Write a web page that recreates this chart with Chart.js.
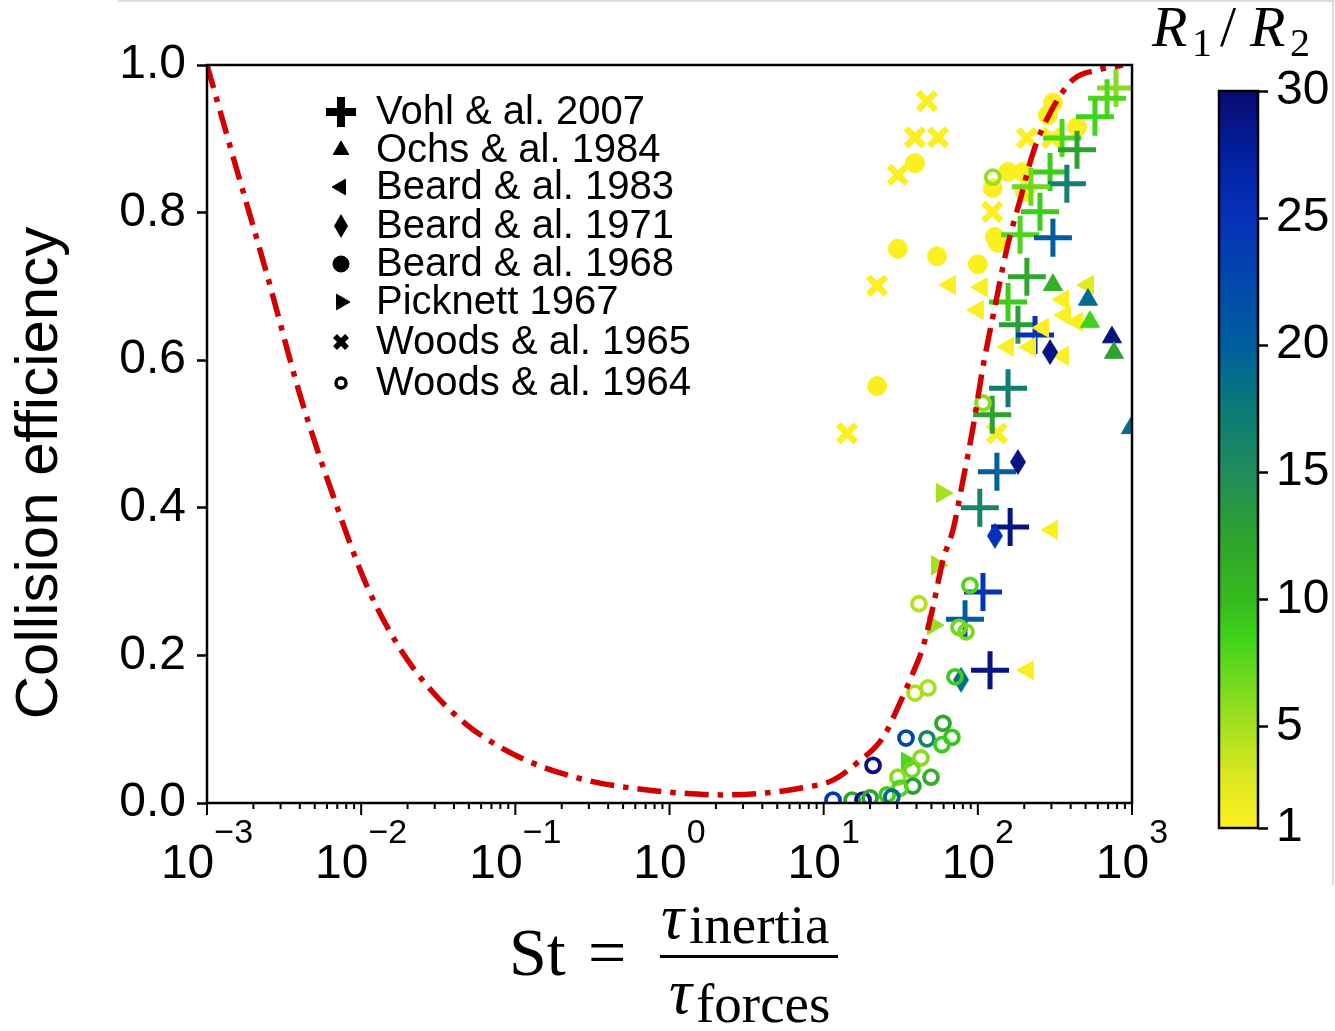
<!DOCTYPE html>
<html lang="en">
<head>
    <meta charset="UTF-8">
    <title>Collision efficiency vs Stokes number</title>
    <script src="https://cdn.jsdelivr.net/npm/chart.js@4.4.1/dist/chart.umd.min.js"></script>
    <style>
        body { margin: 0; background: #fff; }
        #wrap { position: relative; width: 1335px; height: 1031px; overflow: hidden; }
        #wrap canvas { position: absolute; top: 0; }
        #main { left: 0; }
        #cbar { left: 1200px; }
        .edge { position: absolute; background: #dedede; }
    </style>
</head>
<body>
<div id="wrap">
    <canvas id="main" width="1335" height="1031"></canvas>
    <canvas id="cbar" width="135" height="1031"></canvas>
    <div class="edge" style="left:118px;top:0;width:1217px;height:2px"></div>
    <div class="edge" style="left:1332px;top:0;width:2px;height:885px"></div>
</div>
<script>
    // Model curve
    const curveSt  = [0.001, 0.00147, 0.00245, 0.00401, 0.00656, 0.0109, 0.0179, 0.0292, 0.0485, 0.0794, 0.130, 0.216, 0.354, 0.579, 0.964, 2.12, 3.9, 7.02, 11.5, 16.4, 24.3, 31.3, 37.9, 44.0, 51.2, 59.4, 69.0, 80.2, 93.1, 108, 129, 155, 188, 228, 294, 414, 593, 873];
    const curveEff = [1.0, 0.877, 0.716, 0.553, 0.417, 0.294, 0.209, 0.150, 0.106, 0.076, 0.054, 0.038, 0.027, 0.020, 0.015, 0.011, 0.013, 0.020, 0.031, 0.054, 0.089, 0.136, 0.176, 0.211, 0.266, 0.329, 0.370, 0.438, 0.509, 0.591, 0.672, 0.753, 0.817, 0.881, 0.935, 0.980, 0.993, 1.0];

    // Vohl & al. 2007
    const vohlSt    = [787, 689, 575, 352, 440, 294, 378, 221, 253, 188, 307, 208, 157, 182, 235, 157, 124, 133, 103, 162, 108, 82.6, 120];
    const vohlEff   = [0.969, 0.955, 0.930, 0.901, 0.885, 0.855, 0.839, 0.835, 0.801, 0.770, 0.766, 0.713, 0.679, 0.648, 0.634, 0.562, 0.526, 0.449, 0.400, 0.374, 0.286, 0.249, 0.180];
    const vohlRatio = [6, 8, 8.5, 8, 12.5, 9, 16.5, 7, 9, 8, 20, 12, 9, 13, 25, 17, 12.5, 20, 16, 29, 25, 20, 29];

    // Ochs & al. 1984
    const ochsSt    = [307, 518, 534, 741, 764, 985];
    const ochsEff   = [0.702, 0.682, 0.652, 0.631, 0.610, 0.508];
    const ochsRatio = [11, 19, 8.5, 29, 12.5, 19];

    // Beard & al. 1983
    const beard83St    = [65.9, 106, 100, 357, 518, 367, 440, 265, 157, 218, 357, 303, 211];
    const beard83Eff   = [0.702, 0.699, 0.668, 0.682, 0.702, 0.661, 0.652, 0.644, 0.618, 0.618, 0.606, 0.370, 0.180];
    const beard83Ratio = [1.3, 1.3, 1.3, 1.3, 2.5, 1.3, 1.3, 1.3, 1.3, 1.3, 1.3, 1.3, 1.3];

    // Beard & al. 1971
    const beard71St    = [182, 129, 294, 77.8];
    const beard71Eff   = [0.462, 0.362, 0.611, 0.167];
    const beard71Ratio = [29, 25, 29, 19];

    // Beard & al. 1968
    const beard68St    = [39.1, 30.3, 54.3, 100, 125, 157, 196, 202, 129, 135, 307, 285, 440, 22.2];
    const beard68Eff   = [0.867, 0.751, 0.741, 0.730, 0.833, 0.855, 0.855, 0.828, 0.767, 0.759, 0.949, 0.932, 0.916, 0.565];
    const beard68Ratio = [1.2, 1.2, 1.2, 1.2, 1.2, 1.2, 1.2, 1.2, 1.2, 1.2, 1.2, 1.2, 1.2, 1.2];

    // Picknett 1967
    const picknettSt    = [58.5, 54.3, 51.2, 34.7];
    const picknettEff   = [0.420, 0.322, 0.241, 0.056];
    const picknettRatio = [5, 5, 5.5, 8];

    // Woods & al. 1965
    const woods65St    = [46.8, 39.1, 55.2, 30.3, 22.2, 14.2, 124, 208, 303, 133];
    const woods65Eff   = [0.951, 0.902, 0.902, 0.851, 0.701, 0.501, 0.801, 0.901, 0.901, 0.501];
    const woods65Ratio = [1.2, 1.2, 1.2, 1.2, 1.2, 1.2, 1.2, 1.2, 1.2, 1.2];

    // Woods & al. 1964
    const woods64St    = [125, 108, 88.9, 41.5, 75.5, 83.8, 71.1, 47.5, 39.1, 59.4, 34.2, 46.8, 67.9, 58.5, 20.9, 42.8, 37.4, 30.3, 49.7, 37.9, 31.3, 25.8, 11.5, 15.3, 18.0, 20.0, 27.7];
    const woods64Eff   = [0.848, 0.542, 0.295, 0.270, 0.238, 0.232, 0.171, 0.156, 0.149, 0.108, 0.088, 0.087, 0.089, 0.079, 0.051, 0.061, 0.045, 0.035, 0.035, 0.023, 0.020, 0.011, 0.004, 0.004, 0.004, 0.007, 0.008];
    const woods64Ratio = [5.5, 6, 8, 4.5, 7, 6.5, 9, 5, 5, 12, 23, 16, 9.5, 9, 29, 6, 7, 6, 11, 13, 8, 9, 24, 12, 29, 12, 19];

    // Axes / colour bar
    const xTickExps = [-3, -2, -1, 0, 1, 2, 3];
    const xMinorMults = [2, 3, 4, 5, 6, 7, 8, 9];
    const cbTicks = [1, 5, 10, 15, 20, 25, 30];
    const cbStopValues = [1, 3, 5, 7, 8.5, 10, 12.5, 15, 17.5, 20, 25, 27.5, 30];
    const cbStopColors = ['#fff021', '#dbe81f', '#a6e01f', '#6cd81e', '#3fd41b', '#36bb1e', '#2ea22f', '#218c5c', '#0a7b78', '#005e9e', '#0532b8', '#0320a0', '#0a0a6e'];

    const legendLabels = ['Vohl & al. 2007', 'Ochs & al. 1984', 'Beard & al. 1983', 'Beard & al. 1971',
                          'Beard & al. 1968', 'Picknett 1967', 'Woods & al. 1965', 'Woods & al. 1964'];

    const SANS = "'Liberation Sans', Arial, sans-serif";
    const SERIF = "'Liberation Serif', 'DejaVu Serif', serif";
    Chart.defaults.font.family = SANS;
    Chart.defaults.color = '#000';

    function hexToRgb(h) {
        return [parseInt(h.slice(1, 3), 16), parseInt(h.slice(3, 5), 16), parseInt(h.slice(5, 7), 16)];
    }

    function colorFor(v) {
        const n = cbStopValues.length;
        for (let i = 0; i < n - 1; i++) {
            if (v <= cbStopValues[i + 1] || i === n - 2) {
                const a = cbStopValues[i], b = cbStopValues[i + 1];
                const t = Math.max(0, Math.min(1, (v - a) / (b - a)));
                const c1 = hexToRgb(cbStopColors[i]), c2 = hexToRgb(cbStopColors[i + 1]);
                return 'rgb(' + c1.map((c, k) => Math.round(c + (c2[k] - c) * t)).join(',') + ')';
            }
        }
    }

    // thin diamond marker (matplotlib 'd')
    const diamondCache = {};
    function diamond(color, w = 16, h = 26) {
        const key = color + w + h;
        if (!diamondCache[key]) {
            const c = document.createElement('canvas');
            c.width = w; c.height = h;
            const g = c.getContext('2d');
            g.fillStyle = color;
            g.beginPath();
            g.moveTo(w / 2, 0); g.lineTo(w, h / 2); g.lineTo(w / 2, h); g.lineTo(0, h / 2);
            g.closePath();
            g.fill();
            diamondCache[key] = c;
        }
        return diamondCache[key];
    }

    function series(label, st, eff, ratio, style) {
        const colors = ratio.map(colorFor);
        return Object.assign({
            label: label,
            data: st.map((s, i) => ({ x: s, y: eff[i] })),
            pointBackgroundColor: colors,
            pointBorderColor: colors,
            pointHoverRadius: style.pointRadius
        }, style);
    }

    const datasets = [
        {
            type: 'line',
            label: 'model',
            data: curveSt.map((s, i) => ({ x: s, y: curveEff[i] })),
            borderColor: '#d20000',
            borderWidth: 5.5,
            borderDash: [24, 9, 5.5, 9],
            pointRadius: 0,
            fill: false,
            cubicInterpolationMode: 'monotone',
            order: 0
        },
        series(legendLabels[7], woods64St, woods64Eff, woods64Ratio,
            { pointStyle: 'circle', pointRadius: 7, pointBorderWidth: 3.8, order: 1 }),
        series(legendLabels[5], picknettSt, picknettEff, picknettRatio,
            { pointStyle: 'triangle', pointRotation: 90, pointRadius: 11, pointBorderWidth: 1, order: 2 }),
        series(legendLabels[3], beard71St, beard71Eff, beard71Ratio,
            { pointStyle: beard71Ratio.map(v => diamond(colorFor(v))), pointRadius: 12, order: 3 }),
        series(legendLabels[1], ochsSt, ochsEff, ochsRatio,
            { pointStyle: 'triangle', pointRadius: 11, pointBorderWidth: 1, order: 4 }),
        series(legendLabels[2], beard83St, beard83Eff, beard83Ratio,
            { pointStyle: 'triangle', pointRotation: -90, pointRadius: 11, pointBorderWidth: 1, order: 5 }),
        series(legendLabels[0], vohlSt, vohlEff, vohlRatio,
            { pointStyle: 'cross', pointRadius: 19, pointBorderWidth: 5, order: 6 }),
        series(legendLabels[6], woods65St, woods65Eff, woods65Ratio,
            { pointStyle: 'crossRot', pointRadius: 12.5, pointBorderWidth: 6.5, order: 7 }),
        series(legendLabels[4], beard68St, beard68Eff, beard68Ratio,
            { pointStyle: 'circle', pointRadius: 9.5, pointBorderWidth: 1, order: 8 })
    ];
    // hollow rings
    datasets[1].pointBackgroundColor = 'rgba(0,0,0,0)';

    // legend markers, in legend order
    const legendMarkers = [
        { pointStyle: 'cross', radius: 15, borderWidth: 8, fill: '#000' },
        { pointStyle: 'triangle', radius: 9, borderWidth: 1, fill: '#000' },
        { pointStyle: 'triangle', radius: 9, rotation: -90, borderWidth: 1, fill: '#000' },
        { pointStyle: diamond('#000', 14, 24), radius: 12, borderWidth: 0, fill: '#000' },
        { pointStyle: 'circle', radius: 8, borderWidth: 1, fill: '#000' },
        { pointStyle: 'triangle', radius: 9, rotation: 90, borderWidth: 1, fill: '#000' },
        { pointStyle: 'crossRot', radius: 8.5, borderWidth: 5.5, fill: '#000' },
        { pointStyle: 'circle', radius: 5, borderWidth: 3.5, fill: 'rgba(0,0,0,0)' }
    ];
    const legendRows = [112, 150, 187, 226, 264, 302, 342, 383];

    const decorPlugin = {
        id: 'decor',
        afterDraw(chart) {
            const { ctx, chartArea: a } = chart;
            const xs = chart.scales.x;
            ctx.save();

            // frame
            ctx.strokeStyle = '#000';
            ctx.lineWidth = 2.5;
            ctx.strokeRect(a.left, a.top, a.right - a.left, a.bottom - a.top);

            // log ticks on x
            ctx.lineWidth = 2;
            ctx.beginPath();
            xTickExps.forEach(e => {
                const p = xs.getPixelForValue(Math.pow(10, e));
                ctx.moveTo(p, a.bottom); ctx.lineTo(p, a.bottom + 12);
            });
            xTickExps.slice(0, -1).forEach(e => xMinorMults.forEach(m => {
                const p = xs.getPixelForValue(m * Math.pow(10, e));
                ctx.moveTo(p, a.bottom); ctx.lineTo(p, a.bottom + 6);
            }));
            ctx.stroke();

            // x tick labels 10^n
            ctx.fillStyle = '#000';
            ctx.textBaseline = 'alphabetic';
            ctx.textAlign = 'left';
            xTickExps.forEach(e => {
                const p = xs.getPixelForValue(Math.pow(10, e));
                const sup = e < 0 ? '\u2212' + (-e) : String(e);
                ctx.font = '48px ' + SANS;
                const wb = ctx.measureText('10').width;
                ctx.font = '34px ' + SANS;
                const ws = ctx.measureText(sup).width;
                const start = p - (wb + ws) / 2;
                ctx.font = '48px ' + SANS;
                ctx.fillText('10', start, a.bottom + 75);
                ctx.font = '34px ' + SANS;
                ctx.fillText(sup, start + wb, a.bottom + 40);
            });

            // y title
            ctx.save();
            ctx.translate(40, 473);
            ctx.rotate(-Math.PI / 2);
            ctx.font = '60px ' + SANS;
            ctx.textAlign = 'center';
            ctx.textBaseline = 'middle';
            ctx.fillText('Collision efficiency', 0, 0);
            ctx.restore();

            // legend
            legendLabels.forEach((label, i) => {
                const y = legendRows[i];
                const m = legendMarkers[i];
                ctx.fillStyle = m.fill;
                ctx.strokeStyle = '#000';
                ctx.lineWidth = m.borderWidth;
                Chart.helpers.drawPoint(ctx, m, 341, y);
                ctx.fillStyle = '#000';
                ctx.font = '40px ' + SANS;
                ctx.textAlign = 'left';
                ctx.textBaseline = 'middle';
                ctx.fillText(label, 376, y + 1);
            });

            // x title: St = tau_inertia / tau_forces
            ctx.fillStyle = '#000';
            ctx.textBaseline = 'alphabetic';
            ctx.textAlign = 'left';
            ctx.font = '68px ' + SERIF;
            ctx.fillText('St', 509, 975);
            ctx.fillText('=', 588, 975);
            ctx.font = 'italic 64px ' + SERIF;
            ctx.fillText('\u03c4', 661, 938);
            ctx.fillText('\u03c4', 669, 1013);
            ctx.font = '55px ' + SERIF;
            ctx.fillText('inertia', 689, 943);
            ctx.fillText('forces', 696, 1022);
            ctx.fillRect(660, 955, 178, 3);

            // colour bar title R1/R2
            ctx.font = 'italic 58px ' + SERIF;
            ctx.fillText('R', 1152, 46);
            ctx.fillText('R', 1250, 46);
            ctx.font = '58px ' + SERIF;
            ctx.fillText('/', 1220, 46);
            ctx.font = '40px ' + SERIF;
            ctx.fillText('1', 1192, 56);
            ctx.fillText('2', 1290, 56);

            ctx.restore();
        }
    };

    new Chart(document.getElementById('main'), {
        type: 'scatter',
        data: { datasets: datasets },
        options: {
            responsive: false,
            animation: false,
            layout: { padding: { left: 0, top: 65, right: 203, bottom: 228 } },
            plugins: { legend: { display: false }, tooltip: { enabled: false } },
            scales: {
                x: {
                    type: 'logarithmic',
                    min: 0.001,
                    max: 1000,
                    ticks: { display: false },
                    grid: { display: false },
                    border: { display: false },
                    afterFit: scale => { scale.height = 0; }
                },
                y: {
                    min: 0,
                    max: 1,
                    ticks: {
                        stepSize: 0.2,
                        color: '#000',
                        padding: 11,
                        font: { size: 48 },
                        callback: v => v.toFixed(1)
                    },
                    grid: { drawOnChartArea: false, tickLength: 10, tickWidth: 2.5, tickColor: '#000' },
                    border: { display: false },
                    afterFit: scale => { scale.width = 207; }
                }
            }
        },
        plugins: [decorPlugin]
    });

    // colour bar
    function barGradient(chart) {
        const a = chart.chartArea;
        if (!a) return cbStopColors[0];
        const g = chart.ctx.createLinearGradient(0, a.bottom, 0, a.top);
        cbStopValues.forEach((v, i) => g.addColorStop((v - 1) / 29, cbStopColors[i]));
        return g;
    }

    const cbFramePlugin = {
        id: 'cbFrame',
        afterDraw(chart) {
            const { ctx, chartArea: a } = chart;
            ctx.save();
            ctx.strokeStyle = '#000';
            ctx.lineWidth = 2.5;
            ctx.strokeRect(a.left, a.top, a.right - a.left, a.bottom - a.top);
            ctx.restore();
        }
    };

    new Chart(document.getElementById('cbar'), {
        type: 'bar',
        data: {
            labels: [''],
            datasets: [{
                data: [[1, 30]],
                backgroundColor: ctx => barGradient(ctx.chart),
                borderWidth: 0,
                barPercentage: 1,
                categoryPercentage: 1
            }]
        },
        options: {
            responsive: false,
            animation: false,
            layout: { padding: { left: 19, top: 91, right: 0, bottom: 203 } },
            plugins: { legend: { display: false }, tooltip: { enabled: false } },
            scales: {
                x: { display: false },
                y: {
                    position: 'right',
                    min: 1,
                    max: 30,
                    afterBuildTicks: scale => { scale.ticks = cbTicks.map(v => ({ value: v })); },
                    ticks: { color: '#000', padding: 8, font: { size: 48 } },
                    grid: { drawOnChartArea: false, tickLength: 10, tickWidth: 2.5, tickColor: '#000' },
                    border: { display: false },
                    afterFit: scale => { scale.width = 77; }
                }
            }
        },
        plugins: [cbFramePlugin]
    });
</script>
</body>
</html>
